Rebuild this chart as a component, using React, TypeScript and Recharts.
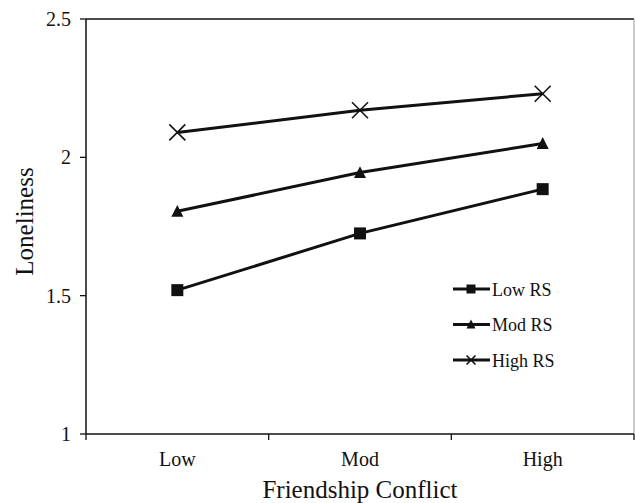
import React from "react";
import { LineChart, Line, XAxis, YAxis, Label, Legend, ReferenceLine } from "recharts";

const categories = ["Low", "Mod", "High"];
const lowRS = [1.52, 1.725, 1.885];
const modRS = [1.805, 1.945, 2.05];
const highRS = [2.09, 2.17, 2.23];
const yTicks = [1, 1.5, 2, 2.5];

const data = categories.map((c, i) => ({
  x: i + 0.5,
  name: c,
  low: lowRS[i],
  mod: modRS[i],
  high: highRS[i],
}));

const FONT = "'Liberation Serif', 'Times New Roman', serif";
const INK = "#111";

const SquareDot = (props: any) => {
  const { cx, cy, s = 12 } = props;
  if (cx == null || cy == null) return null;
  return <rect x={cx - s / 2} y={cy - s / 2} width={s} height={s} fill={INK} />;
};
const TriDot = (props: any) => {
  const { cx, cy, s = 12 } = props;
  if (cx == null || cy == null) return null;
  const h = s * 0.9;
  return (
    <polygon
      points={`${cx},${cy - h / 2 - 1} ${cx - s / 2},${cy + h / 2} ${cx + s / 2},${cy + h / 2}`}
      fill={INK}
    />
  );
};
const CrossDot = (props: any) => {
  const { cx, cy, s = 16 } = props;
  if (cx == null || cy == null) return null;
  const r = s / 2;
  return (
    <g stroke={INK} strokeWidth={1.6}>
      <line x1={cx - r} y1={cy - r} x2={cx + r} y2={cy + r} />
      <line x1={cx - r} y1={cy + r} x2={cx + r} y2={cy - r} />
    </g>
  );
};

const series = [
  { key: "low", name: "Low RS", Dot: SquareDot },
  { key: "mod", name: "Mod RS", Dot: TriDot },
  { key: "high", name: "High RS", Dot: CrossDot },
];

const XTick = (props: any) => {
  const { x, y, payload } = props;
  const v = payload.value;
  if (Number.isInteger(v)) {
    return <line x1={x} y1={y} x2={x} y2={y + 6} stroke={INK} strokeWidth={1.3} />;
  }
  return (
    <text x={x} y={y + 32} textAnchor="middle" fontFamily={FONT} fontSize={20} fill={INK}>
      {categories[Math.floor(v)]}
    </text>
  );
};

const LegendContent = () => (
  <svg width={170} height={100}>
    {series.map((s, i) => {
      const cy = 10 + i * 35.5;
      const D = s.Dot;
      return (
        <g key={s.key}>
          <line x1={0} y1={cy} x2={37} y2={cy} stroke={INK} strokeWidth={2.8} />
          <D cx={18} cy={cy} s={9} />
          <text x={39} y={cy + 6.5} fontFamily={FONT} fontSize={18} fill={INK}>
            {s.name}
          </text>
        </g>
      );
    })}
  </svg>
);

const YLabel = (props: any) => {
  const vb = props.viewBox || {};
  const cy = (vb.y ?? 19) + (vb.height ?? 415) / 2 - 5;
  return (
    <text
      x={0}
      y={0}
      transform={`translate(33, ${cy}) rotate(-90)`}
      textAnchor="middle"
      fontFamily={FONT}
      fontSize={25}
      fill={INK}
    >
      Loneliness
    </text>
  );
};

export default function App() {
  return (
    <div style={{ position: "absolute", left: 0, top: 0, background: "#fff" }}>
      <LineChart width={635} height={503} data={data} margin={{ top: 19, right: 1, bottom: 0, left: 0 }}>
        <XAxis
          dataKey="x"
          type="number"
          domain={[0, 3]}
          ticks={[0, 0.5, 1, 1.5, 2, 2.5, 3]}
          tick={<XTick />}
          tickLine={false}
          tickSize={0}
          tickMargin={0}
          height={69}
          axisLine={{ stroke: INK, strokeWidth: 1.5 }}
          interval={0}
        >
          <Label
            value="Friendship Conflict"
            position="insideBottom"
            offset={5}
            style={{ fontFamily: FONT, fontSize: 25, fill: INK }}
          />
        </XAxis>
        <YAxis
          type="number"
          domain={[1, 2.5]}
          ticks={yTicks}
          width={86}
          tickSize={6}
          tickMargin={9}
          tick={{ fontFamily: FONT, fontSize: 20, fill: INK }}
          tickLine={{ stroke: INK, strokeWidth: 1.3 }}
          axisLine={{ stroke: INK, strokeWidth: 1.5 }}
        >
          <Label content={<YLabel />} position="insideLeft" />
        </YAxis>
        <ReferenceLine y={2.5} stroke={INK} strokeWidth={1.5} />
        <ReferenceLine x={3} stroke="#999" strokeWidth={1} />
        {series.map((s) => (
          <Line
            key={s.key}
            dataKey={s.key}
            name={s.name}
            stroke={INK}
            strokeWidth={3}
            dot={<s.Dot />}
            activeDot={false}
            isAnimationActive={false}
          />
        ))}
        <Legend
          layout="vertical"
          align="center"
          verticalAlign="middle"
          content={<LegendContent />}
          wrapperStyle={{ left: 453, top: 279, width: 170, height: 100 }}
        />
      </LineChart>
    </div>
  );
}
